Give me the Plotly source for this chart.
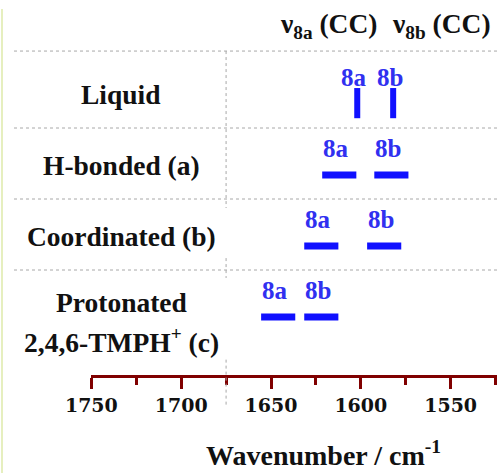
import plotly.graph_objects as go

# ---- data ----
row_labels = [["Liquid"], ["H-bonded (a)"], ["Coordinated (b)"],
              ["Protonated", "2,4,6-TMPH<sup>+</sup> (c)"]]
nu_8a = [1602, 1612, 1622, 1646]
nu_8b = [1582, 1583, 1587, 1622]
band_names = ["8a", "8b"]
bar_orient = ["v", "h", "h", "h"]
tick_vals = [1750, 1700, 1650, 1600, 1550]
tick_text = ["1750", "1700", "1650", "1600", "1550"]
headers = ["ν<sub>8a</sub> (CC)", "ν<sub>8b</sub> (CC)"]
divider_nu = 1675

# ---- style ----
BLUE = "#1010ff"
LBLUE = "#3030f0"
DARKRED = "#800000"
GREY = "#a8a8a8"
SERIF = "Liberation Serif"
half_w = 9.5          # half-length of horizontal band marks (cm-1)
W, H = 497, 473

fig = go.Figure()

# band marks
for i, (a, b) in enumerate(zip(nu_8a, nu_8b)):
    for nu in (a, b):
        if bar_orient[i] == "v":
            xs, ys, lw = [nu, nu], [i - 0.225, i + 0.2], 6
        else:
            xs, ys, lw = [nu - half_w, nu + half_w], [i, i], 7
        fig.add_trace(go.Scatter(x=xs, y=ys, mode="lines",
                                 line=dict(color=BLUE, width=lw),
                                 hoverinfo="skip", showlegend=False))
    for nu, name in zip((a, b), band_names):
        fig.add_annotation(x=nu, y=i - 0.38, xref="x", yref="y", text=name,
                           showarrow=False, xshift=-3, xanchor="center", yanchor="middle",
                           font=dict(family=SERIF, size=25, color=LBLUE, weight="bold"))

# row labels
for i, lines in enumerate(row_labels):
    offs = [-0.14] if len(lines) == 1 else [-0.21, 0.325]
    for line, off in zip(lines, offs):
        fig.add_annotation(x=121 / W, y=i + off, xref="paper", yref="y", text=line,
                           showarrow=False, xanchor="center", yanchor="middle",
                           font=dict(family=SERIF, size=27.5, color="#111111", weight="bold"))

# headers
for txt, px in zip(headers, (328, 441)):
    fig.add_annotation(x=px / W, y=1 - 26 / H, xref="paper", yref="paper", text=txt,
                       showarrow=False, xanchor="center", yanchor="middle",
                       font=dict(family=SERIF, size=27.5, color="#111111", weight="bold"))

# axis title
fig.add_annotation(x=323 / W, y=1 - 453 / H, xref="paper", yref="paper",
                   text="Wavenumber / cm<sup>-1</sup>", showarrow=False,
                   xanchor="center", yanchor="middle",
                   font=dict(family=SERIF, size=28, color="#111111", weight="bold"))

# separators
shapes = []
for ysep in [-0.746, 0.338, 1.338, 2.338]:
    shapes.append(dict(type="line", xref="paper", yref="y", x0=14 / W, x1=1,
                       y0=ysep, y1=ysep, line=dict(color=GREY, width=1, dash="dot")))
for y0, y1 in [(-0.746, 1.465), (2.17, 2.45), (3.6, 4.27)]:
    shapes.append(dict(type="line", xref="x", yref="y", x0=divider_nu, x1=divider_nu,
                       y0=y0, y1=y1, line=dict(color=GREY, width=1, dash="dot")))
shapes.append(dict(type="line", xref="paper", yref="paper", x0=2 / W, x1=2 / W,
                   y0=0, y1=1 - 9 / H, line=dict(color="#e6efbf", width=2)))

fig.update_layout(
    template="none",
    width=W, height=H, margin=dict(l=0, r=0, t=0, b=0, pad=0), autosize=False,
    paper_bgcolor="white", plot_bgcolor="white",
    shapes=shapes,
    xaxis=dict(range=[1750.2, 1524.2], domain=[91 / W, 1], anchor="free",
               position=1 - 376 / H, showgrid=False, zeroline=False, automargin=False,
               showline=True, linecolor=DARKRED, linewidth=2.5,
               ticks="outside", ticklen=11, tickwidth=2.5, tickcolor=DARKRED,
               tickvals=tick_vals, ticktext=tick_text,
               tickfont=dict(family="DejaVu Serif", size=19, color="#111111", weight="bold"),
               minor=dict(ticks="outside", ticklen=7, tickwidth=2.5, tickcolor=DARKRED,
                          dtick=25, tick0=1750, showgrid=False)),
    yaxis=dict(range=[5.197, -1.465], domain=[0, 1], visible=False, automargin=False),
)

fig.write_html("out.html", config={"displayModeBar": False},
               post_script="document.body.style.margin='0';document.body.style.overflow='hidden';")
